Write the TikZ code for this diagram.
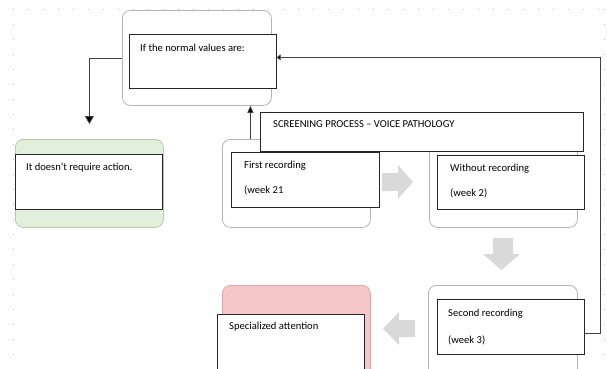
\documentclass[tikz,border=0pt]{standalone}
\usepackage{fontspec}
\setmainfont{Carlito}
\usetikzlibrary{arrows.meta}
\definecolor{obord}{HTML}{B4B4B4}
\definecolor{gfill}{HTML}{E2EFDA}
\definecolor{gbord}{HTML}{B8C9AE}
\definecolor{rfill}{HTML}{F5C6C8}
\definecolor{rbord}{HTML}{E0A8AA}
\definecolor{blk}{HTML}{D9D9D9}
\definecolor{conncol}{HTML}{404040}
\definecolor{gridcol}{HTML}{C4C4C4}
\begin{document}
\begin{tikzpicture}[x=1pt,y=-1pt,
  outerbox/.style={draw=obord, line width=0.8pt, rounded corners=8pt, fill=white, inner sep=0pt, anchor=north west},
  innerbox/.style={draw=black!85, line width=0.7pt, fill=white, inner sep=0pt, anchor=north west},
  txt/.style={inner sep=0pt, anchor=base west, font=\fontsize{10.6}{12}\selectfont, text=black},
  conn/.style={draw=conncol, line width=0.8pt},
  blockarrow/.style={fill=blk, draw=none},
  dotline/.style={draw=gridcol, line width=0.8pt, dash pattern=on 0.8pt off 14.2pt}]
\clip (0,0) rectangle (607,368);
\fill[white] (0,0) rectangle (607,368);
% faint dotted page grid
\draw[dotline] (13,9) -- (607,9);
\draw[dotline] (13,9) -- (13,368);
\draw[dotline] (604,9) -- (604,368);

% outer rounded boxes
\node[outerbox, minimum width=149pt, minimum height=95pt] (on) at (122,10) {};
\node[outerbox, draw=gbord, fill=gfill, minimum width=148pt, minimum height=88pt] (go) at (15,139) {};
\node[outerbox, minimum width=148pt, minimum height=88pt] (fo) at (222,139) {};
\node[outerbox, minimum width=148pt, minimum height=88pt] (wo) at (429,139) {};
\node[outerbox, minimum width=149pt, minimum height=95pt] (so) at (428,285) {};
\node[outerbox, draw=rbord, fill=rfill, minimum width=148pt, minimum height=95pt] (ro) at (222,285) {};

% screening title box
\node[innerbox, minimum width=323pt, minimum height=39pt] (scr) at (260,112) {};
\node[txt] at ([shift={(13pt,-15pt)}]scr.north west) {SCREENING PROCESS – VOICE PATHOLOGY};

% inner rectangles
\node[innerbox, minimum width=147pt, minimum height=54pt] (in) at (129,34) {};
\node[txt] at ([shift={(11pt,-17pt)}]in.north west) {If the normal values are:};

\node[innerbox, minimum width=147pt, minimum height=55pt] (gi) at (15,154) {};
\node[txt] at ([shift={(11pt,-16pt)}]gi.north west) {It doesn{\char96}t require action.};

\node[innerbox, minimum width=148pt, minimum height=55pt] (fi) at (231,152) {};
\node[txt] at ([shift={(13pt,-16pt)}]fi.north west) {First recording};
\node[txt] at ([shift={(13pt,-41pt)}]fi.north west) {(week 21};

\node[innerbox, minimum width=147pt, minimum height=54pt] (wi) at (437,155) {};
\node[txt] at ([shift={(13pt,-16pt)}]wi.north west) {Without recording};
\node[txt] at ([shift={(13pt,-41pt)}]wi.north west) {(week 2)};

\node[innerbox, minimum width=147pt, minimum height=55pt] (si) at (437,299) {};
\node[txt] at ([shift={(11pt,-17pt)}]si.north west) {Second recording};
\node[txt] at ([shift={(11pt,-44pt)}]si.north west) {(week 3)};

\node[innerbox, minimum width=147pt, minimum height=60pt] (ri) at (217,314) {};
\node[txt] at ([shift={(12pt,-15pt)}]ri.north west) {Specialized attention};

% grey block arrows
\path[blockarrow] (382,173) -- (398,173) -- (398,165) -- (413,182) -- (398,199) -- (398,191) -- (382,191) -- cycle;
\path[blockarrow] (493,238) -- (513,238) -- (513,254) -- (520,254) -- (501.5,270) -- (483,254) -- (493,254) -- cycle;
\path[blockarrow] (415,320) -- (399,320) -- (399,312) -- (383,328.5) -- (399,345) -- (399,337) -- (415,337) -- cycle;

% connectors
\draw[conn, -{Triangle[length=8pt,width=9pt,fill=black]}] (on.west) -| ([yshift=15pt]go.north);
\draw[conn, -{Triangle[length=7pt,width=6pt,fill=black]}] ([xshift=-46pt]fo.north) -- ([xshift=-46pt]fo.north |- on.south);
\draw[conn, -{Triangle[length=4pt,width=6pt,fill=black]}] ([yshift=-6.5pt]si.east) -- ++(16pt,0) |- ([yshift=4pt]in.east);
\end{tikzpicture}
\end{document}
